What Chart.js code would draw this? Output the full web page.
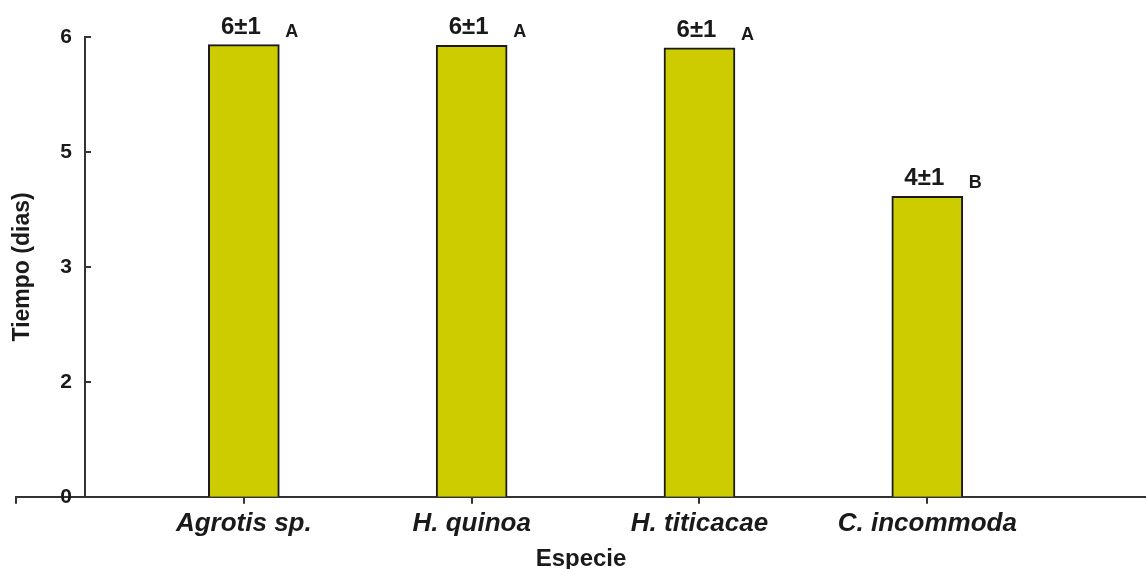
<!DOCTYPE html>
<html>
<head>
<meta charset="utf-8">
<script src="https://cdn.jsdelivr.net/npm/chart.js@4/dist/chart.umd.min.js"></script>
<style>
  html, body { margin: 0; padding: 0; background: #ffffff; }
  #wrap { width: 1146px; height: 569px; position: relative; }
</style>
</head>
<body>
<div id="wrap"><canvas id="c" width="1146" height="569"></canvas></div>
<script>
// ---- data ----
const categories = ['Agrotis sp.', 'H. quinoa', 'H. titicacae', 'C. incommoda'];
const tiempo = [5.9, 5.89, 5.86, 3.92];
const meanLabels = ['6±1', '6±1', '6±1', '4±1'];
const groupLetters = ['A', 'A', 'A', 'B'];
const yTickValues = [0, 1.5, 3, 4.5, 6];
const yTickLabels = ['0', '2', '3', '5', '6'];
const xAxisTitle = 'Especie';
const yAxisTitle = 'Tiempo (dias)';

const INK = '#1a1a1a';
const AXIS = '#333333';
const FAMILY = '"Liberation Sans", Arial, sans-serif';

const barLabelPlugin = {
  id: 'barLabels',
  afterDatasetsDraw(chart) {
    const ctx = chart.ctx;
    const meta = chart.getDatasetMeta(0);
    ctx.save();
    ctx.fillStyle = INK;
    meta.data.forEach((bar, i) => {
      const half = bar.width / 2;
      ctx.font = 'bold 24px ' + FAMILY;
      ctx.textAlign = 'center';
      ctx.textBaseline = 'alphabetic';
      ctx.fillText(meanLabels[i], bar.x - 3, bar.y - 11);
      ctx.font = 'bold 18px ' + FAMILY;
      ctx.textAlign = 'left';
      ctx.fillText(groupLetters[i], bar.x + half + 6, bar.y - 8);
    });
    ctx.restore();
  }
};

const setYTicks = (axis) => { axis.ticks = yTickValues.map(v => ({ value: v })); };

new Chart(document.getElementById('c'), {
  type: 'bar',
  data: {
    datasets: [{
      data: categories.map((c, i) => ({ x: i + 1, y: tiempo[i] })),
      backgroundColor: '#cccc00',
      borderColor: '#1a1a1a',
      borderWidth: 2,
      borderSkipped: 'bottom',
      barThickness: 71,
      xAxisID: 'x',
      yAxisID: 'y'
    }]
  },
  options: {
    responsive: false,
    animation: false,
    devicePixelRatio: 1,
    layout: { padding: { top: 37, left: 0, right: 0, bottom: 0 } },
    plugins: { legend: { display: false }, tooltip: { enabled: false } },
    scales: {
      x: {
        type: 'linear',
        min: 0,
        max: 4.96,
        offset: false,
        grid: { offset: false, drawOnChartArea: false, drawTicks: true, tickLength: 7, color: AXIS, lineWidth: 2 },
        border: { display: true, color: AXIS, width: 2 },
        ticks: {
          stepSize: 1,
          includeBounds: false,
          autoSkip: false,
          maxRotation: 0,
          padding: 7,
          color: INK,
          font: { family: FAMILY, size: 26, weight: 'bold', style: 'italic', lineHeight: 1.0 },
          callback: (v) => (Number.isInteger(v) && v >= 1 && v <= categories.length) ? categories[v - 1] : ''
        },
        title: {
          display: true,
          text: xAxisTitle,
          color: INK,
          padding: { top: 6, bottom: 0 },
          font: { family: FAMILY, size: 24, weight: 'bold', lineHeight: 0.8 }
        }
      },
      // axis carrying only the rotated title, on the left edge
      yt: {
        position: 'left',
        min: 0,
        max: 6,
        ticks: { display: false },
        grid: { display: false, drawTicks: false },
        border: { display: false },
        title: {
          display: true,
          text: yAxisTitle,
          color: INK,
          padding: { top: 9.2, bottom: -20.8 },
          font: { family: FAMILY, size: 23, weight: 'bold' }
        }
      },
      // tick labels of the value axis
      y: {
        position: { x: 0.2458 },
        min: 0,
        max: 6,
        afterBuildTicks: setYTicks,
        grid: { display: false, drawTicks: false },
        border: { display: false },
        ticks: {
          color: INK,
          font: { family: FAMILY, size: 21, weight: 'bold' },
          callback: (v, i) => yTickLabels[i]
        }
      },
      // value axis line with inward tick marks
      y2: {
        position: { x: 0.303 },
        min: 0,
        max: 6,
        afterBuildTicks: setYTicks,
        grid: { drawOnChartArea: false, drawTicks: true, tickLength: -7, color: AXIS, lineWidth: 2 },
        border: { display: true, color: AXIS, width: 2 },
        ticks: { display: false }
      }
    }
  },
  plugins: [barLabelPlugin]
});
</script>
</body>
</html>
